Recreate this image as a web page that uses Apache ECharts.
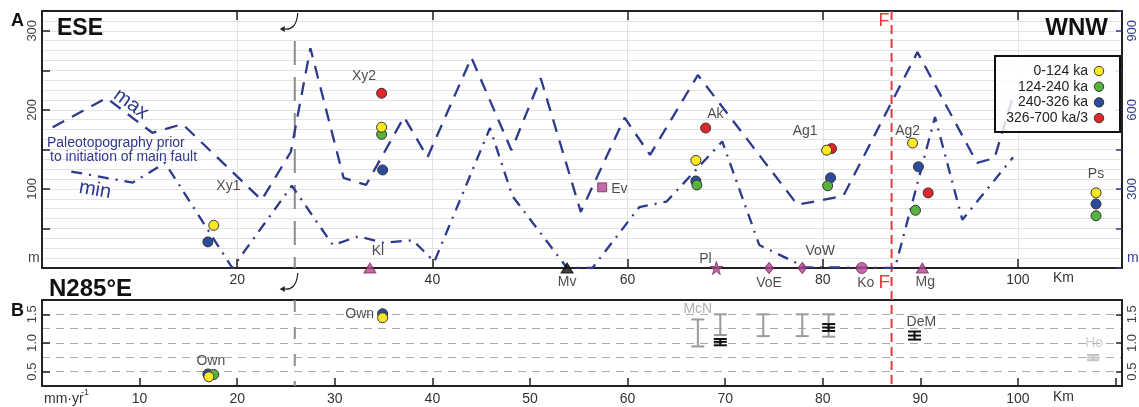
<!DOCTYPE html>
<html>
<head>
<meta charset="utf-8">
<script src="https://cdn.jsdelivr.net/npm/echarts@6/dist/echarts.min.js"></script>
<style>
  html, body { margin: 0; padding: 0; background: #fff; }
  #chart { width: 1139px; height: 407px; }
</style>
</head>
<body>
<div id="chart"></div>
<script>
// ---- panel A: paleotopography envelopes (km along profile, m)
var maxKm = [1.1, 6.6, 11.3, 14.4, 22.5, 25.5, 27.5, 30.9, 33.2, 37.1, 39.5, 44.0, 48.1, 51.1, 55.2, 59.7, 62.3, 67.2, 77.4, 82.1, 89.7, 95.8, 97.6, 99.4];
var maxM = [178, 215, 171, 182, 86, 147, 278, 114, 105, 191, 140, 266, 149, 240, 71, 190, 143, 244, 80, 91, 273, 133, 139, 213];
var minKm = [3.0, 9.3, 12.6, 19.5, 25.6, 29.8, 32.4, 34.9, 38.0, 40.2, 45.9, 48.2, 53.8, 56.4, 61.2, 64.0, 69.7, 73.5, 78.2, 87.4, 91.5, 94.3, 99.5];
var minM = [122, 108, 133, 0, 104, 29, 40, 32, 35, 8, 177, 91, 0, 0, 77, 84, 160, 29, 1, 0, 191, 61, 140];

// terrace elevations by age class (km, m)
var ageNames = ['0-124 ka', '124-240 ka', '240-326 ka', '326-700 ka/3'];
var yellowKm = [17.6, 34.8, 67.0, 80.4, 89.2, 108.0];
var yellowM = [54, 178, 136, 149, 158, 95];
var greenKm = [34.8, 67.1, 80.5, 89.5, 108.0];
var greenM = [169, 105, 104, 73, 66];
var blueKm = [17.0, 34.9, 67.0, 80.8, 89.8, 108.0];
var blueM = [33, 124, 110, 114, 128, 81];
var redKm = [34.8, 68.0, 80.9, 90.8];
var redM = [221, 177, 151, 95];

var groupNames = ['Xy1', 'Xy2', 'Ak', 'Ag1', 'Ag2', 'Ps'];
var groupKm = [19.1, 33.0, 69.0, 78.2, 88.7, 108.0];
var groupM = [104, 242, 195, 173, 173, 119];

// sites along the profile
var siteNames = ['Kl', 'Mv', 'Ev', 'Pl', 'VoE', 'VoW', 'Ko', 'Mg'];
var siteKm = [33.6, 53.8, 57.4, 69.1, 74.5, 77.9, 84.0, 90.2];
var siteM = [0, 0, 102, 0, 0, 0, 0, 0];

// ---- panel B: rates (mm/yr)
var ownYellowKm = [17.1, 34.9], ownYellowRate = [0.41, 1.44];
var ownGreenKm = [17.6], ownGreenRate = [0.45];
var ownBlueKm = [17.0, 34.9], ownBlueRate = [0.46, 1.51];

var mcnKm = [67.2, 69.5, 73.9, 77.9, 80.6];
var mcnLow = [0.94, 1.14, 1.12, 1.12, 1.11];
var mcnHigh = [1.41, 1.50, 1.50, 1.50, 1.50];

var rateKm = [69.5, 80.6, 89.4];
var rateLow = [0.96, 1.21, 1.06];
var rateHigh = [1.07, 1.33, 1.20];
var rateMid = [1.02, 1.27, 1.13];

var hoKm = [107.7], hoLow = [0.70], hoHigh = [0.79], hoMid = [0.745];

var rateNames = ['Own', 'Own', 'McN', 'DeM', 'Ho'];
var rateLabelKm = [17.3, 32.55, 67.2, 90.1, 107.8];
var rateLabelVal = [0.69, 1.505, 1.59, 1.37, 1.0];

var faultKm = 87.05;
var hingeKm = 25.9;

// ---- styling
var FONT = "'Liberation Sans', Arial, Helvetica, sans-serif";
var NAVY = '#2e3a8c';
var PINK = '#b2478f';
var INK = '#222';
var TEXT = '#1e1e1e';
var ageColors = ['#fbe924', '#55b43f', '#2c4c9c', '#e2262b'];
var STAR = 'path://M50,0 L61,35 L98,35 L68,57 L79,91 L50,70 L21,91 L32,57 L2,35 L39,35 Z';

function pairs(xs, ys) {
  return xs.map(function (x, i) { return [x, ys[i]]; });
}

var chart = echarts.init(document.getElementById('chart'));

function axisBase(extra) {
  var base = {
    type: 'value',
    axisLine: { show: true, onZero: false, lineStyle: { color: INK, width: 2 } },
    axisTick: { show: false },
    axisLabel: { show: false },
    splitLine: { show: false }
  };
  return Object.assign(base, extra);
}

var siteStyle = {
  Kl: { symbol: 'triangle', size: [12, 10], pos: 'top', off: [8, 0] },
  Mv: { symbol: 'triangle', size: [12, 10], pos: 'bottom', off: [0, -2], color: '#111' },
  Ev: { symbol: 'rect', size: 9, pos: 'right', off: [0, 2] },
  Pl: { symbol: STAR, size: 13, pos: 'top', off: [-11, 9] },
  VoE: { symbol: 'diamond', size: [9, 11], pos: 'bottom', off: [0, -2] },
  VoW: { symbol: 'diamond', size: [9, 11], pos: 'top', off: [18, 0] },
  Ko: { symbol: 'circle', size: 11, pos: 'bottom', off: [4, -2] },
  Mg: { symbol: 'triangle', size: [12, 10], pos: 'bottom', off: [3, -2] }
};

var labelFont = { fontFamily: FONT, fontSize: 14, color: TEXT, textBorderWidth: 0 };

var siteData = siteNames.map(function (n, i) {
  var s = siteStyle[n];
  return {
    name: n,
    value: [siteKm[i], siteM[i]],
    symbol: s.symbol,
    symbolSize: s.size,
    itemStyle: { color: s.color || PINK, borderColor: s.color ? '#000' : '#7a2a62', borderWidth: 1 },
    label: Object.assign({ show: true, position: s.pos, offset: s.off, formatter: n }, labelFont)
  };
});

function labelData(names, xs, ys, colors) {
  return names.map(function (n, i) {
    var c = (colors && colors[n]) || TEXT;
    return { name: n, value: [xs[i], ys[i]], label: Object.assign({}, labelFont, { color: c }) };
  });
}

function errorBar(color, capHalf) {
  return function (params, api) {
    var x = api.value(0);
    var lo = api.coord([x, api.value(1)]);
    var hi = api.coord([x, api.value(2)]);
    var st = { stroke: color, lineWidth: 2 };
    var kids = [
      { type: 'line', shape: { x1: lo[0], y1: lo[1], x2: hi[0], y2: hi[1] }, style: st },
      { type: 'line', shape: { x1: lo[0] - capHalf, y1: lo[1], x2: lo[0] + capHalf, y2: lo[1] }, style: st },
      { type: 'line', shape: { x1: hi[0] - capHalf, y1: hi[1], x2: hi[0] + capHalf, y2: hi[1] }, style: st }
    ];
    var mid = api.value(3);
    if (!isNaN(mid)) {
      var m = api.coord([x, mid]);
      kids.push({ type: 'line', shape: { x1: m[0] - capHalf, y1: m[1], x2: m[0] + capHalf, y2: m[1] }, style: st });
    }
    return { type: 'group', children: kids };
  };
}

function quad(xs, a, b, c) {
  return xs.map(function (x, i) { return c ? [x, a[i], b[i], c[i]] : [x, a[i], b[i]]; });
}

var ageTop = [
  [redKm, redM, 3], [blueKm, blueM, 2], [greenKm, greenM, 1], [yellowKm, yellowM, 0]
].map(function (g) {
  return {
    type: 'scatter', name: ageNames[g[2]], xAxisIndex: 0, yAxisIndex: 0,
    data: pairs(g[0], g[1]), symbolSize: 10, z: 5, silent: true,
    itemStyle: { color: ageColors[g[2]], borderColor: '#333', borderWidth: 1, opacity: 1 }
  };
});

var ageBottom = [
  [ownBlueKm, ownBlueRate, 2], [ownGreenKm, ownGreenRate, 1], [ownYellowKm, ownYellowRate, 0]
].map(function (g) {
  return {
    type: 'scatter', xAxisIndex: 2, yAxisIndex: 3,
    data: pairs(g[0], g[1]), symbolSize: 10, z: 5, silent: true,
    itemStyle: { color: ageColors[g[2]], borderColor: '#333', borderWidth: 1, opacity: 1 }
  };
});

var option = {
  animation: false,
  textStyle: { fontFamily: FONT },
  grid: [
    { left: 42, right: 17, top: 11, bottom: 139 },
    { left: 42, right: 17, top: 300, bottom: 21 }
  ],
  xAxis: [
    axisBase({
      gridIndex: 0, position: 'bottom', min: 0, max: 110.66, interval: 20,
      axisTick: { show: true, inside: true, length: 9, lineStyle: { color: INK, width: 1.5 } },
      axisLabel: {
        show: true, margin: 5, fontSize: 14, color: '#333', fontFamily: FONT,
        formatter: function (v) { return (v > 0 && v <= 100 && v % 20 === 0) ? String(v) : ''; }
      },
      splitLine: { show: true, lineStyle: { color: '#e3e3e3', width: 1 } }
    }),
    axisBase({
      gridIndex: 0, position: 'top', min: 0, max: 110.66, interval: 20,
      axisTick: { show: true, inside: true, length: 9, lineStyle: { color: INK, width: 1.5 } }
    }),
    axisBase({
      gridIndex: 1, position: 'bottom', min: 0, max: 110.66, interval: 10,
      axisTick: { show: true, inside: true, length: 8, lineStyle: { color: INK, width: 1.5 } },
      axisLabel: {
        show: true, margin: 6, fontSize: 14, color: '#333', fontFamily: FONT,
        formatter: function (v) { return (v > 0 && v <= 100 && v % 10 === 0) ? String(v) : ''; }
      }
    }),
    axisBase({ gridIndex: 1, position: 'top', min: 0, max: 110.66 })
  ],
  yAxis: [
    axisBase({
      gridIndex: 0, position: 'left', min: 0, max: 325, interval: 50,
      axisTick: { show: true, inside: true, length: 8, lineStyle: { color: INK, width: 1.5 } },
      axisLabel: {
        show: true, rotate: 90, margin: 3, fontSize: 13, color: '#444', fontFamily: FONT,
        formatter: function (v) { return (v > 0 && v <= 300 && v % 100 === 0) ? String(v) : ''; }
      }
    }),
    axisBase({
      gridIndex: 0, position: 'right', min: 0, max: 975, interval: 150,
      axisTick: { show: true, inside: true, length: 6, lineStyle: { color: NAVY, width: 1.5 } },
      axisLabel: {
        show: true, rotate: 90, margin: 4, fontSize: 13, color: NAVY, fontFamily: FONT,
        formatter: function (v) { return (v > 0 && v <= 900 && v % 300 === 0) ? String(v) : ''; }
      }
    }),
    axisBase({
      gridIndex: 0, position: 'left', min: 0, max: 325, interval: 12.5,
      axisLine: { show: false, onZero: false },
      splitLine: { show: true, lineStyle: { color: '#e3e3e3', width: 1 } }
    }),
    axisBase({
      gridIndex: 1, position: 'left', min: 0.25, max: 1.75, interval: 0.25,
      axisLine: { show: false, onZero: false },
      splitLine: { show: true, lineStyle: { color: '#ababab', width: 1, type: [8, 6] } }
    }),
    axisBase({
      gridIndex: 1, position: 'left', min: 0.25, max: 1.75,
      axisTick: { show: true, inside: true, length: 8, customValues: [0.5, 1.0, 1.5], lineStyle: { color: INK, width: 1.5 } },
      axisLabel: {
        show: true, rotate: 90, margin: 3, fontSize: 13, color: '#444', fontFamily: FONT,
        customValues: [0.5, 1.0, 1.5],
        formatter: function (v) { return Number(v).toFixed(1); }
      }
    }),
    axisBase({
      gridIndex: 1, position: 'right', min: 0.25, max: 1.75,
      axisTick: { show: true, inside: true, length: 6, customValues: [0.5, 1.0, 1.5], lineStyle: { color: INK, width: 1.5 } },
      axisLabel: {
        show: true, rotate: 90, margin: 4, fontSize: 13, color: '#444', fontFamily: FONT,
        customValues: [0.5, 1.0, 1.5],
        formatter: function (v) { return Number(v).toFixed(1); }
      }
    })
  ],
  series: [
    {
      type: 'line', xAxisIndex: 0, yAxisIndex: 0, data: pairs(maxKm, maxM),
      symbol: 'none', silent: true, z: 3,
      lineStyle: { color: NAVY, width: 2.3, type: [13, 9] }
    },
    {
      type: 'line', xAxisIndex: 0, yAxisIndex: 0, data: pairs(minKm, minM),
      symbol: 'none', silent: true, z: 3,
      lineStyle: { color: NAVY, width: 2.3, type: [11, 7, 2, 7] }
    }
  ].concat(ageTop, ageBottom, [
    {
      type: 'scatter', xAxisIndex: 0, yAxisIndex: 0, data: siteData, clip: false, z: 6, silent: true,
      label: Object.assign({ show: true, distance: 4 }, labelFont)
    },
    {
      type: 'scatter', xAxisIndex: 0, yAxisIndex: 0, symbolSize: 0, silent: true, z: 6,
      data: labelData(groupNames, groupKm, groupM),
      label: Object.assign({ show: true, position: 'inside', formatter: '{b}' }, labelFont)
    },
    {
      type: 'scatter', xAxisIndex: 2, yAxisIndex: 3, symbolSize: 0, silent: true, z: 6, clip: false,
      data: labelData(rateNames, rateLabelKm, rateLabelVal, { McN: '#9a9a9a', Ho: '#c4c4c4' }),
      label: Object.assign({ show: true, position: 'inside', formatter: '{b}' }, labelFont)
    },
    {
      type: 'custom', xAxisIndex: 2, yAxisIndex: 3, silent: true, z: 4,
      renderItem: errorBar('#9a9a9a', 6.5), data: quad(mcnKm, mcnLow, mcnHigh)
    },
    {
      type: 'custom', xAxisIndex: 2, yAxisIndex: 3, silent: true, z: 4,
      renderItem: errorBar('#111', 6.5), data: quad(rateKm, rateLow, rateHigh, rateMid)
    },
    {
      type: 'custom', xAxisIndex: 2, yAxisIndex: 3, silent: true, z: 4,
      renderItem: errorBar('#c4c4c4', 6), data: quad(hoKm, hoLow, hoHigh, hoMid)
    }
  ])
};

chart.setOption(option);

// overlays placed from the axes
var fx = chart.convertToPixel({ xAxisIndex: 0 }, faultKm);
var hx = chart.convertToPixel({ xAxisIndex: 0 }, hingeKm);
var yTop = chart.convertToPixel({ yAxisIndex: 0 }, 325);
var yAxisA = chart.convertToPixel({ yAxisIndex: 0 }, 0);
var yTopB = chart.convertToPixel({ yAxisIndex: 3 }, 1.75);
var yBot = chart.convertToPixel({ yAxisIndex: 3 }, 0.25);

function txt(s, x, y, size, color, opts) {
  opts = opts || {};
  return {
    type: 'text', x: x, y: y, rotation: opts.rot || 0, z: 20, silent: true,
    style: {
      text: s, x: 0, y: 0, fill: color,
      font: (opts.bold ? 'bold ' : '') + size + 'px ' + FONT,
      align: opts.align || 'left', verticalAlign: 'middle'
    }
  };
}

function curlArrow(x, y) {
  return [
    { type: 'bezierCurve', z: 20, silent: true,
      shape: { x1: x + 3, y1: y, cpx1: x + 2, cpy1: y + 13, cpx2: x - 3, cpy2: y + 17, x2: x - 11, y2: y + 16 },
      style: { stroke: '#222', lineWidth: 1.2, fill: null } },
    { type: 'polygon', z: 20, silent: true,
      shape: { points: [[x - 15, y + 16], [x - 10, y + 13], [x - 10, y + 19]] },
      style: { fill: '#222' } }
  ];
}

var legendKids = [
  { type: 'rect', shape: { x: 995, y: 56, width: 125, height: 76 },
    style: { fill: 'rgba(255,255,255,0.82)', stroke: '#111', lineWidth: 2 }, z: 15 }
];
ageNames.forEach(function (n, i) {
  var cy = 71 + i * 15.7;
  legendKids.push(txt(n, 1088, cy, 14, '#222', { align: 'right' }));
  legendKids.push({ type: 'circle', z: 20, shape: { cx: 1099, cy: cy, r: 4.7 },
    style: { fill: ageColors[i], stroke: '#333', lineWidth: 1 } });
});

var graphics = [
  { type: 'line', z: 1, silent: true, shape: { x1: hx, y1: yTop + 30, x2: hx, y2: yAxisA },
    style: { stroke: '#8c8c8c', lineWidth: 2, lineDash: [24, 12] } },
  { type: 'line', z: 1, silent: true, shape: { x1: hx, y1: yTopB, x2: hx, y2: yBot },
    style: { stroke: '#8c8c8c', lineWidth: 2, lineDash: [12, 15] } },
  { type: 'line', z: 1, silent: true, shape: { x1: fx, y1: yTop, x2: fx, y2: yBot },
    style: { stroke: '#e8383d', lineWidth: 2, lineDash: [9, 5] } },
  txt('F', fx - 13, 21, 18, '#e8383d'),
  txt('F', fx - 13, yAxisA + 15, 19, '#e8383d'),
  txt('A', 11, 21, 18, '#111', { bold: true }),
  txt('ESE', 57, 29, 23, '#111', { bold: true }),
  txt('WNW', 1108, 28, 24, '#111', { bold: true, align: 'right' }),
  txt('N285\u00b0E', 49, 289, 24, '#111', { bold: true }),
  txt('B', 11, 311, 18, '#111', { bold: true }),
  txt('m', 28, 258, 14, '#444'),
  txt('m', 1127, 258, 14, NAVY),
  txt('Km', 1053, 278, 14, '#333'),
  txt('Km', 1053, 397, 14, '#333'),
  txt('mm\u00b7yr', 44, 399, 14, '#333'),
  txt('-1', 81, 393, 9, '#333'),
  txt('Paleotopography prior', 47, 143, 14, NAVY),
  txt('to initiation of main fault', 50, 157, 14, NAVY),
  txt('max', 131, 104, 20, NAVY, { align: 'center', rot: -0.62 }),
  txt('min', 95, 190, 20, NAVY, { align: 'center', rot: -0.17 }),
  { type: 'group', children: legendKids }
].concat(curlArrow(hx, yTop + 2), curlArrow(hx, yAxisA + 5));

chart.setOption({ graphic: graphics });
</script>
</body>
</html>
